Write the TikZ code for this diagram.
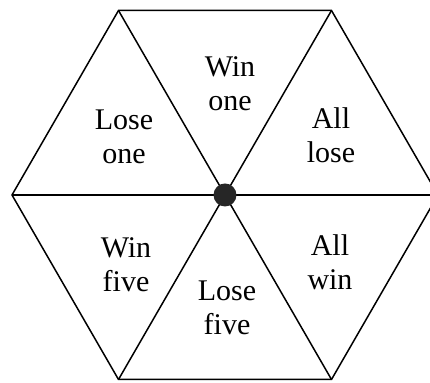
\documentclass[tikz,border=0pt]{standalone}
\usepackage{fontspec}
\setmainfont{Liberation Serif}
\usetikzlibrary{positioning}
\tikzset{
  edge/.style={draw=black, line width=0.75pt, line join=miter},
  hub/.style={circle, fill=black!85, minimum size=11.5pt, inner sep=0pt},
  label/.style={align=center, font=\fontsize{15}{17}\selectfont, inner sep=0pt}
}

\begin{document}
\begin{tikzpicture}[x=0.5pt, y=-0.5pt]
  \clip (0,0) rectangle (430,383);
  % corners of the hexagon
  \coordinate (r) at (438,195);
  \coordinate (tr) at (331.5,10.5);
  \coordinate (tl) at (118.5,10.5);
  \coordinate (l) at (12,195);
  \coordinate (bl) at (118.5,379.5);
  \coordinate (br) at (331.5,379.5);
  \coordinate (o) at (225,195);
  \draw[edge] (r)--(tr)--(tl)--(l)--(bl)--(br)--cycle;
  \foreach \v in {r,tr,tl,l,bl,br}
    \draw[edge] (o)--(\v);
  \node[hub] (hub) at (o) {};
  % sectors
  \node[label] (winone) at (230,84) {Win\\one};
  \node[label] (loseone) at (124,137) {Lose\\one};
  \node[label] (alllose) at (331,135) {All\\lose};
  \node[label] (winfive) at (126,265) {Win\\five};
  \node[label] (allwin) at (330,262) {All\\win};
  \node[label] (losefive) at (227,308) {Lose\\five};
\end{tikzpicture}
\end{document}
